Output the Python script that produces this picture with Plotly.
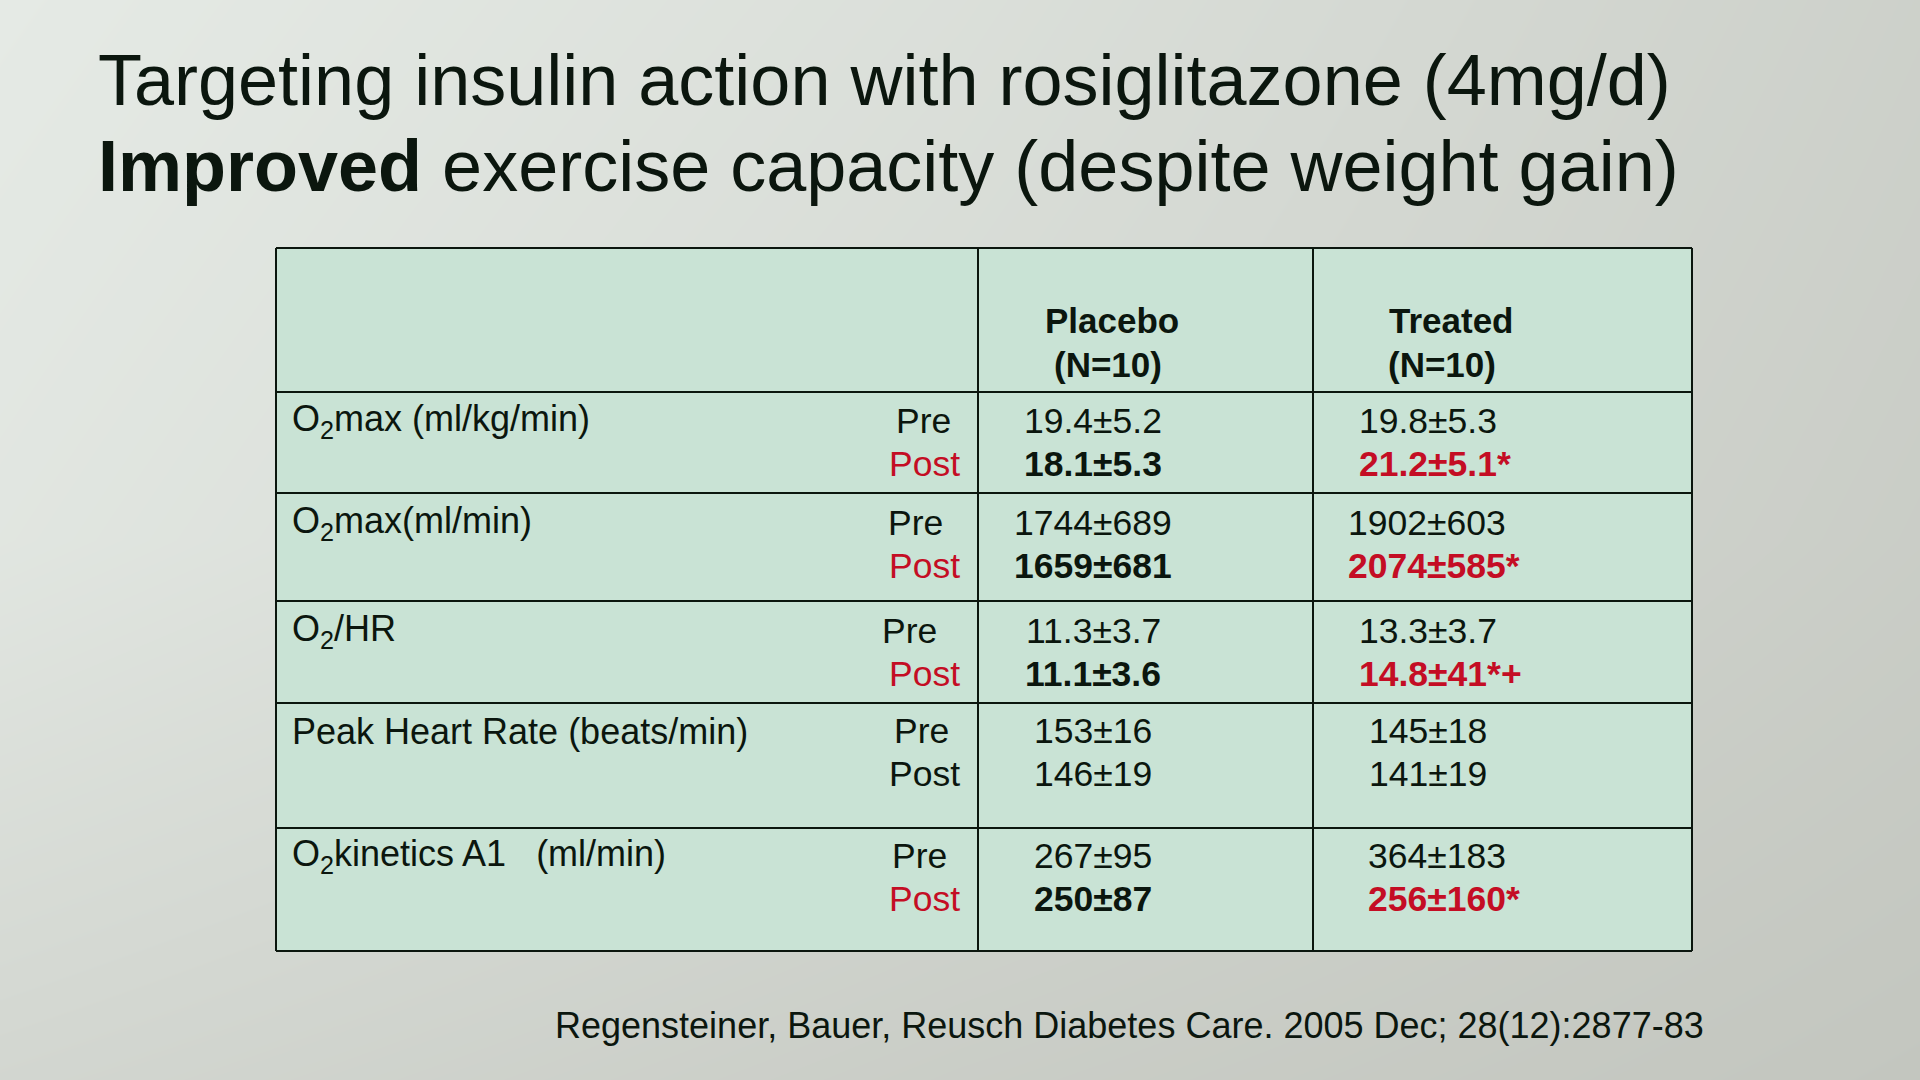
import plotly.graph_objects as go

# ---- data ----
title_1 = "Targeting insulin action with rosiglitazone (4mg/d)"
title_2 = "<b>Improved</b> exercise capacity (despite weight gain)"
groups = ["Placebo", "Treated"]
group_n = ["(N=10)", "(N=10)"]
measures = [
    "O<sub>2</sub>max (ml/kg/min)",
    "O<sub>2</sub>max(ml/min)",
    "O<sub>2</sub>/HR",
    "Peak Heart Rate (beats/min)",
    "O<sub>2</sub>kinetics A1\u00a0\u00a0\u00a0(ml/min)",
]
placebo_pre = ["19.4±5.2", "1744±689", "11.3±3.7", "153±16", "267±95"]
placebo_post = ["18.1±5.3", "1659±681", "11.1±3.6", "146±19", "250±87"]
treated_pre = ["19.8±5.3", "1902±603", "13.3±3.7", "145±18", "364±183"]
treated_post = ["21.2±5.1*", "2074±585*", "14.8±41*+", "141±19", "256±160*"]
post_changed = [True, True, True, False, True]
source = "Regensteiner, Bauer, Reusch Diabetes Care. 2005 Dec; 28(12):2877-83"

# ---- layout (slide pixels) ----
W, H = 1920, 1080
FONT = "Liberation Sans, Arial, sans-serif"
INK = "#0b160e"
RED = "#c40d24"
col_edges = [276, 978, 1313, 1692]
row_edges = [248, 392, 493, 601, 703, 828, 951]
line1_y = [421, 523, 631, 731, 856]
line2_y = [464, 566, 674, 774, 899]
pre_right = [953, 945, 939, 951, 949]
post_right = 962
placebo_x = 1093
treated_left = [1357, 1346, 1357, 1367, 1366]
header_x = [1112, 1451]
header_n_x = [1108, 1442]

fig = go.Figure()

# soft slide background
fig.add_trace(go.Heatmap(
    x=[0, 960, 1920], y=[0, 540, 1080],
    z=[[0.0, 0.3, 0.7], [0.12, 0.45, 0.8], [0.55, 0.8, 1.0]],
    zsmooth="best", showscale=False, hoverinfo="skip",
    colorscale=[[0, "#e5eae5"], [1, "#c3c6bf"]],
))

shapes = [dict(type="rect", x0=col_edges[0], x1=col_edges[-1], y0=row_edges[0], y1=row_edges[-1],
               xref="x", yref="y", fillcolor="#c9e3d5", line=dict(width=0))]
for yy in row_edges:
    shapes.append(dict(type="line", x0=col_edges[0], x1=col_edges[-1], y0=yy, y1=yy,
                       xref="x", yref="y", line=dict(color=INK, width=2)))
for xx in col_edges:
    shapes.append(dict(type="line", x0=xx, x1=xx, y0=row_edges[0], y1=row_edges[-1],
                       xref="x", yref="y", line=dict(color=INK, width=2)))

ann = []


def txt(x, y, s, size=35.5, color=INK, xanchor="center"):
    ann.append(dict(x=x, y=y, xref="x", yref="y", text=s, showarrow=False,
                    xanchor=xanchor, yanchor="middle",
                    font=dict(family=FONT, size=size, color=color)))


txt(96, 80, title_1, size=72, xanchor="left")
txt(96, 166, title_2, size=72, xanchor="left")

for i, g in enumerate(groups):
    txt(header_x[i], 320, "<b>" + g + "</b>", size=35)
    txt(header_n_x[i], 364, "<b>" + group_n[i] + "</b>", size=35)

for i, m in enumerate(measures):
    txt(290, line1_y[i], m, size=36, xanchor="left")
    txt(pre_right[i], line1_y[i], "Pre", xanchor="right")
    if post_changed[i]:
        txt(post_right, line2_y[i], "Post", color=RED, xanchor="right")
        txt(placebo_x, line2_y[i], "<b>" + placebo_post[i] + "</b>")
        txt(treated_left[i], line2_y[i], "<b>" + treated_post[i] + "</b>", color=RED, xanchor="left")
    else:
        txt(post_right, line2_y[i], "Post", xanchor="right")
        txt(placebo_x, line2_y[i], placebo_post[i])
        txt(treated_left[i], line2_y[i], treated_post[i], xanchor="left")
    txt(placebo_x, line1_y[i], placebo_pre[i])
    txt(treated_left[i], line1_y[i], treated_pre[i], xanchor="left")

txt(553, 1025, source, size=36, xanchor="left")

fig.update_layout(
    width=W, height=H,
    margin=dict(l=0, r=0, t=0, b=0),
    paper_bgcolor="#d6dad5", plot_bgcolor="#d6dad5",
    xaxis=dict(range=[0, W], visible=False, fixedrange=True),
    yaxis=dict(range=[H, 0], visible=False, fixedrange=True),
    shapes=shapes, annotations=ann,
    showlegend=False,
)

fig.write_html("out.html", config={"displayModeBar": False},
               post_script="document.body.style.margin='0';")
